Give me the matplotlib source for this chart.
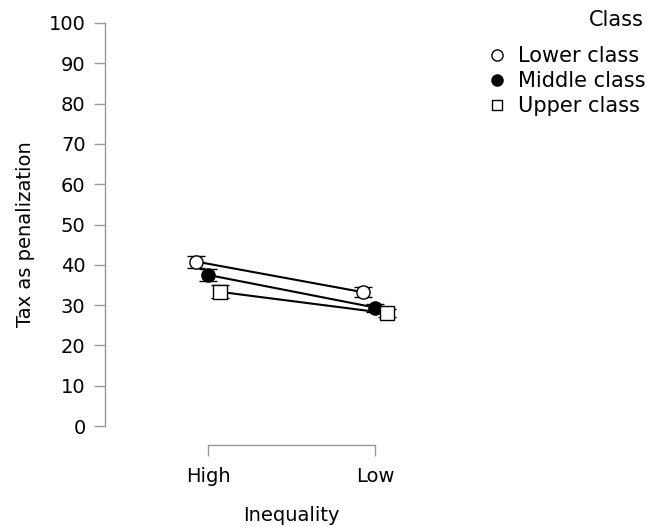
import matplotlib
matplotlib.use("Agg")
import matplotlib.pyplot as plt
import numpy as np

plt.rcParams.update({
    "font.family": "DejaVu Sans",
    "font.size": 14,
})

inequality = ["High", "Low"]
classes = ["Lower class", "Middle class", "Upper class"]
means = {
    "Lower class": [40.8, 33.2],
    "Middle class": [37.5, 29.4],
    "Upper class": [33.3, 28.0],
}
errors = {
    "Lower class": [1.5, 1.3],
    "Middle class": [1.4, 1.0],
    "Upper class": [1.6, 1.0],
}
styles = {
    "Lower class": dict(marker="o", mfc="white"),
    "Middle class": dict(marker="o", mfc="black"),
    "Upper class": dict(marker="s", mfc="white"),
}
dodge = [-0.07, 0.0, 0.07]

fig = plt.figure(figsize=(6.47, 5.27), dpi=100)
ax = fig.add_axes([105 / 647, 1 - 445 / 527, (478 - 105) / 647, (445 - 23) / 527])

x = np.arange(len(inequality))
for cls, dx in zip(classes, dodge):
    ax.errorbar(x + dx, means[cls], yerr=errors[cls], color="black", lw=1.5,
                capsize=6.5, capthick=1, elinewidth=1, marker=styles[cls]["marker"],
                mfc=styles[cls]["mfc"], mec="black", mew=1, ms=9.5, label=cls,
                zorder=3)

ax.set_xlim(-0.617, 1.617)
ax.set_ylim(-4.7, 100)
ax.set_yticks(np.arange(0, 101, 10))
ax.set_xticks(x)
ax.set_xticklabels(inequality)

for side in ["top", "right"]:
    ax.spines[side].set_visible(False)
ax.spines["left"].set_bounds(0, 100)
ax.spines["bottom"].set_bounds(0, 1)
for side in ["left", "bottom"]:
    ax.spines[side].set_color("#999999")
    ax.spines[side].set_linewidth(1)
ax.tick_params(axis="both", colors="#999999", labelcolor="black", labelsize=14,
               length=8, width=1)
ax.tick_params(axis="y", pad=6)
ax.tick_params(axis="x", pad=8)

ax.set_ylabel("Tax as penalization", fontsize=14, labelpad=10)
ax.set_xlabel("Inequality", fontsize=14, labelpad=14)

# legend: title drawn separately so it sits right-aligned above the entries
handles = [plt.Line2D([], [], ls="none", marker=styles[c]["marker"],
                      mfc=styles[c]["mfc"], mec="black", mew=1, ms=8)
           for c in classes]
handles[2].set_markersize(6.5)
fig.text(644 / 647, 1 - 20 / 527, "Class", ha="right", va="center", fontsize=15)
fig.legend(handles, classes, loc="upper right",
           bbox_to_anchor=(645 / 647, 1 - 46 / 527), frameon=False, fontsize=15,
           handlelength=0.8, handletextpad=0.6, labelspacing=0.25,
           borderpad=0, borderaxespad=0)

fig.savefig("out.png", dpi=100)
